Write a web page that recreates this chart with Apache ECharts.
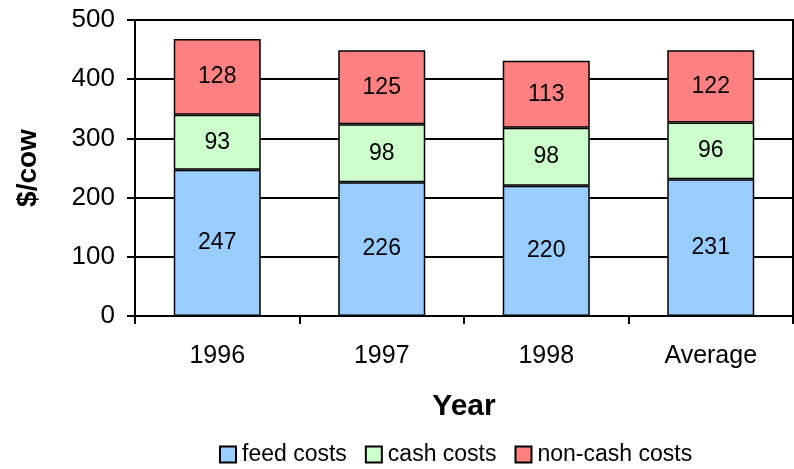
<!DOCTYPE html>
<html>
<head>
<meta charset="utf-8">
<script src="https://cdn.jsdelivr.net/npm/echarts@6/dist/echarts.min.js"></script>
<style>
  html, body { margin: 0; padding: 0; background: #fff; }
  #chart { width: 794px; height: 469px; }
</style>
</head>
<body>
<div id="chart"></div>
<script>
// 数据
const years = ['1996', '1997', '1998', 'Average'];
const feedCosts = [247, 226, 220, 231];
const cashCosts = [93, 98, 98, 96];
const nonCashCosts = [128, 125, 113, 122];

const font = '"Liberation Sans", Arial, sans-serif';

function barSeries(name, data, color) {
  return {
    name: name,
    type: 'bar',
    stack: 'total',
    data: data,
    barWidth: 87,
    itemStyle: { color: color, borderColor: '#000', borderWidth: 1.5 },
    label: {
      show: true,
      position: 'inside',
      color: '#000',
      fontFamily: font,
      fontSize: 23
    }
  };
}

let chart = echarts.init(document.getElementById('chart'));
chart.setOption({
  animation: false,
  grid: {
    left: 135, right: 1, top: 20, bottom: 153,
    show: true, borderColor: '#000', borderWidth: 2
  },
  legend: {
    top: 438,
    left: 214,
    itemWidth: 16,
    itemHeight: 16,
    itemGap: 18,
    icon: 'rect',
    itemStyle: { borderColor: '#000', borderWidth: 2 },
    textStyle: { fontFamily: font, fontSize: 23, color: '#000', padding: [0, 0, 0, 1] },
    data: ['feed costs', 'cash costs', 'non-cash costs']
  },
  xAxis: {
    type: 'category',
    data: years,
    name: 'Year',
    nameLocation: 'middle',
    nameGap: 76,
    nameTextStyle: { fontFamily: font, fontSize: 30, fontWeight: 'bold', color: '#000' },
    axisLine: { lineStyle: { color: '#000', width: 2 } },
    axisTick: { show: true, length: 8, inside: false, lineStyle: { color: '#000', width: 2 } },
    axisLabel: { fontFamily: font, fontSize: 25, color: '#000', margin: 28 }
  },
  yAxis: {
    type: 'value',
    min: 0,
    max: 500,
    interval: 100,
    name: '$/cow',
    nameLocation: 'middle',
    nameGap: 93,
    nameTextStyle: { fontFamily: font, fontSize: 28, fontWeight: 'bold', color: '#000' },
    axisLine: { show: true, lineStyle: { color: '#000', width: 2 } },
    axisTick: { show: true, length: 8, lineStyle: { color: '#000', width: 2 } },
    axisLabel: { fontFamily: font, fontSize: 26, color: '#000', margin: 20 },
    splitLine: { lineStyle: { color: '#000', width: 2 } }
  },
  series: [
    barSeries('feed costs', feedCosts, '#99CCFF'),
    barSeries('cash costs', cashCosts, '#CCFFCC'),
    barSeries('non-cash costs', nonCashCosts, '#FF8080')
  ]
});
</script>
</body>
</html>
